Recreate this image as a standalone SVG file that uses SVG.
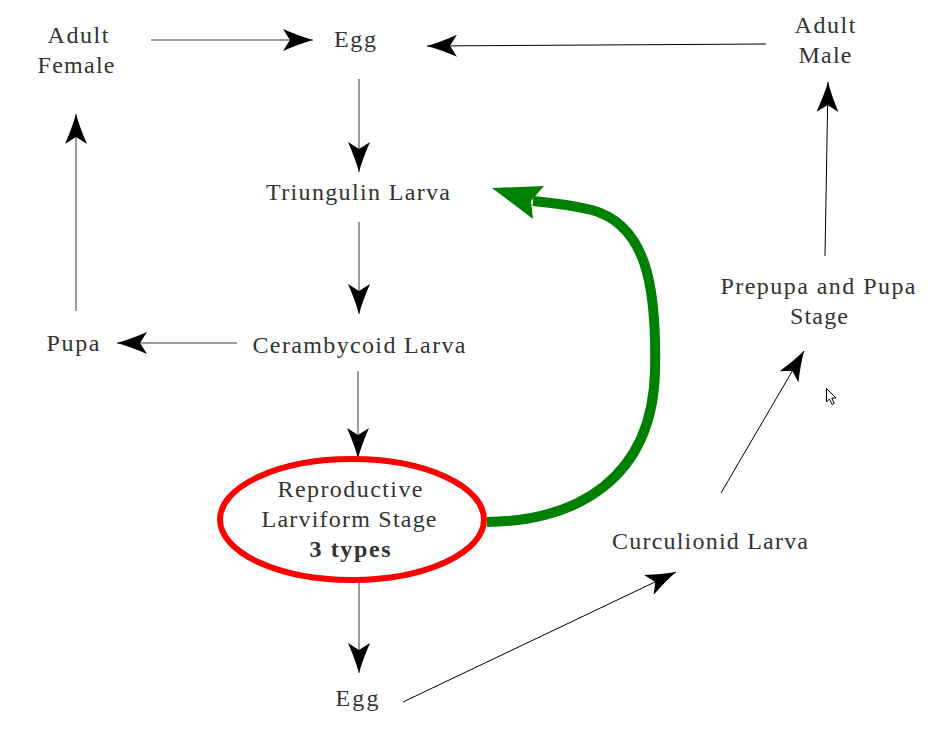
<svg xmlns="http://www.w3.org/2000/svg" width="938" height="737" viewBox="0 0 938 737">
<defs>
<marker id="ah" viewBox="0 0 30 22" refX="30" refY="11" markerWidth="30" markerHeight="22" markerUnits="userSpaceOnUse" orient="auto">
<path d="M0,0 Q16,7 30,11 Q16,15 0,22 L7,11 Z" fill="#000"/>
</marker>
</defs>
<rect width="938" height="737" fill="#fff"/>
<g id="connectors" fill="none">
<g stroke="#7a7a7a" stroke-width="1.5">
<line x1="151" y1="40" x2="313" y2="40" marker-end="url(#ah)"/>
<line x1="359" y1="79" x2="359" y2="172" marker-end="url(#ah)"/>
<line x1="359" y1="222" x2="359" y2="314" marker-end="url(#ah)"/>
<line x1="237" y1="343" x2="117" y2="343" marker-end="url(#ah)"/>
<line x1="76" y1="311" x2="76" y2="114" marker-end="url(#ah)"/>
<line x1="358" y1="371" x2="358" y2="458" marker-end="url(#ah)"/>
<line x1="359" y1="583" x2="359" y2="673" marker-end="url(#ah)"/>
</g>
<g stroke="#000" stroke-width="1">
<line x1="766" y1="44" x2="427" y2="46" marker-end="url(#ah)"/>
<line x1="403" y1="702" x2="676" y2="572" marker-end="url(#ah)"/>
<line x1="721" y1="493" x2="804" y2="351" marker-end="url(#ah)"/>
<line x1="825" y1="256" x2="828" y2="82" marker-end="url(#ah)"/>
</g>
<path d="M487,522 C578,521 652,478 655,372 C657,285 646,225 592,210 Q566,204 533,201" stroke="#008000" stroke-width="10"/>
<polygon points="492,188 544,186 531,201 533,219" fill="#008000"/>
</g>
<g font-size="24" fill="#333">
<g id="adult-female"><text font-family="Liberation Serif" x="47.5" y="43" textLength="61">Adult</text><text font-family="Liberation Serif" x="37.5" y="73" textLength="77">Female</text></g>
<g id="egg-top"><text font-family="Liberation Serif" x="334" y="47" textLength="42">Egg</text></g>
<g id="adult-male"><text font-family="Liberation Serif" x="794.5" y="33" textLength="61">Adult</text><text font-family="Liberation Serif" x="798.5" y="63" textLength="53">Male</text></g>
<g id="triungulin"><text font-family="Liberation Serif" x="266" y="200" textLength="184">Triungulin Larva</text></g>
<g id="pupa"><text font-family="Liberation Serif" x="46.5" y="351" textLength="53">Pupa</text></g>
<g id="cerambycoid"><text font-family="Liberation Serif" x="252.5" y="353" textLength="213">Cerambycoid Larva</text></g>
<g id="prepupa"><text font-family="Liberation Serif" x="720.5" y="294" textLength="195">Prepupa and Pupa</text><text font-family="Liberation Serif" x="790" y="324" textLength="58">Stage</text></g>
<g id="reproductive">
<ellipse cx="352" cy="519.5" rx="132" ry="60.5" fill="none" stroke="#f00" stroke-width="6"/>
<text font-family="Liberation Serif" x="277.5" y="497" textLength="145">Reproductive</text><text font-family="Liberation Serif" x="261.5" y="527" textLength="175">Larviform Stage</text><text font-family="Liberation Serif" x="309.5" y="557" font-weight="bold" textLength="81">3 types</text>
</g>
<g id="egg-bottom"><text font-family="Liberation Serif" x="335.5" y="706" textLength="43">Egg</text></g>
<g id="curculionid"><text font-family="Liberation Serif" x="612" y="549" textLength="196">Curculionid Larva</text></g>
</g>
<path d="M826.5,388.5 V402 L829.5,399 L832,404.5 L834.2,403.5 L831.8,398 H836 Z" fill="#fff" stroke="#000" stroke-width="1" stroke-linejoin="round"/>
</svg>
